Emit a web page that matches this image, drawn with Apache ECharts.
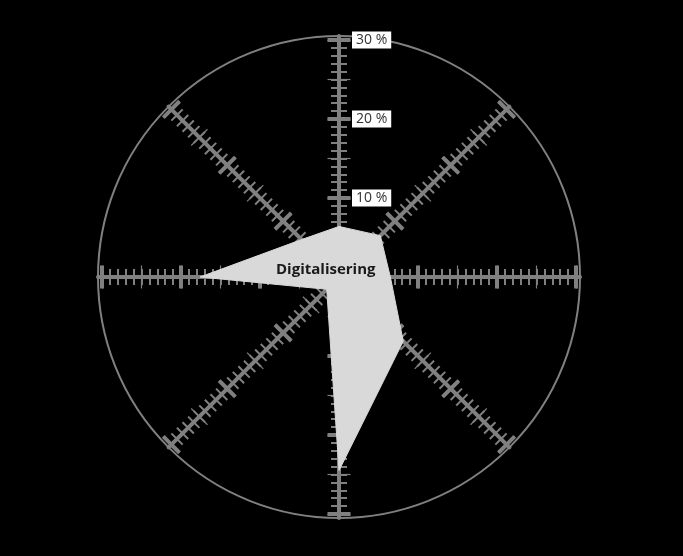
<!DOCTYPE html>
<html>
<head>
<meta charset="utf-8">
<script src="https://cdn.jsdelivr.net/npm/echarts@6/dist/echarts.min.js"></script>
<style>
html,body{margin:0;padding:0;background:#000;}
#chart{width:683px;height:556px;}
</style>
</head>
<body>
<div id="chart"></div>
<script>
// Axes in ECharts order (counter-clockwise from top): N, NW, W, SW, S, SE, E, NE
const categories = ['', '', '', '', '', '', '', ''];
const seriesName = 'Digitalisering';
const seriesValues = [6.4, 6.7, 17.6, 2.2, 24.5, 11.5, 6.5, 7.4];
const axisMin = 0;
const axisMax = 30;
const tickLabels = ['10 %', '20 %', '30 %'];

const GREY = '#808080';
const CENTER = [339, 277];
const R = 237;

function indicators(extra) {
  return categories.map((name, i) => Object.assign({ name: name, min: axisMin, max: axisMax }, (extra && i === 0) ? extra : {}));
}

function tickRadar(splitNumber, len, width) {
  return {
    center: CENTER, radius: R, shape: 'circle', splitNumber: splitNumber,
    indicator: indicators(),
    axisName: { show: false },
    axisLine: { show: false },
    splitLine: { show: false },
    splitArea: { show: false },
    axisLabel: { show: false },
    axisTick: { show: true, length: len, lineStyle: { color: GREY, width: width } }
  };
}

const radars = [
  {
    center: CENTER, radius: R, shape: 'circle', splitNumber: 3,
    indicator: indicators({
      axisLabel: {
        show: true, showMinLabel: false,
        formatter: function (v) { return tickLabels[Math.round(v / 10) - 1] || ''; },
        color: '#333', fontFamily: 'Open Sans', fontSize: 14,
        backgroundColor: '#fff', padding: [2, 4, 1, 4], margin: -13, align: 'left'
      }
    }),
    axisName: { show: false },
    axisLine: { show: false },
    splitLine: { show: false },
    splitArea: { show: false },
    axisTick: { show: false },
    axisLabel: { show: false }
  },
  {
    center: CENTER, radius: 241, shape: 'circle', splitNumber: 1,
    indicator: indicators(),
    axisName: { show: false },
    axisLine: { show: true, lineStyle: { color: GREY, width: 4 } },
    splitLine: { show: true, lineStyle: { color: GREY, width: 2 } },
    splitArea: { show: false },
    axisTick: { show: false },
    axisLabel: { show: false }
  },
  tickRadar(30, 8, 2),
  tickRadar(30, -8, 2),
  tickRadar(6, 11.5, 1.2),
  tickRadar(6, -11.5, 1.2),
  tickRadar(3, 11.5, 4),
  tickRadar(3, -11.5, 4)
];

const chart = echarts.init(document.getElementById('chart'));
chart.setOption({
  backgroundColor: '#000',
  animation: false,
  title: {
    text: seriesName, left: 271, top: 257,
    textStyle: { color: '#1a1a1a', fontSize: 15, fontWeight: 'bold', fontFamily: 'Open Sans' }
  },
  radar: radars,
  series: [{
    type: 'radar', radarIndex: 0, name: seriesName, symbol: 'none', z: 5,
    lineStyle: { width: 1, color: '#d9d9d9' },
    areaStyle: { color: '#d9d9d9', opacity: 1 },
    data: [{ value: seriesValues, name: seriesName }]
  }]
});
</script>
</body>
</html>
